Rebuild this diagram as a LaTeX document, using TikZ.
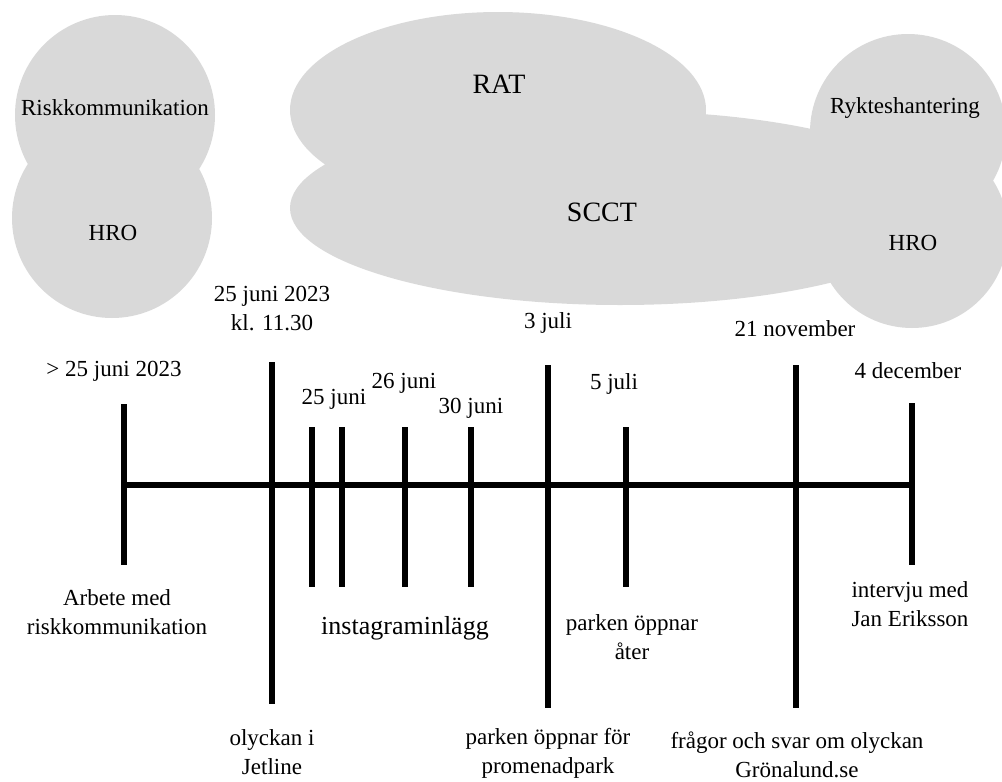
\documentclass[tikz,border=0pt]{standalone}
\usepackage{fontspec}
\setmainfont{Liberation Serif}
\definecolor{cloudgrey}{RGB}{217,217,217}
\tikzset{
  lbl/.style={align=center, inner sep=0pt, font=\fontsize{11.5}{14.5}\selectfont},
  biglbl/.style={align=center, inner sep=0pt, font=\fontsize{14}{16}\selectfont},
  tick/.style={line width=3pt},
}

\begin{document}
\begin{tikzpicture}[x=0.5pt,y=-0.5pt]
\useasboundingbox (0,0) rectangle (1002,782);
\clip (0,0) rectangle (1002,782);

% theory clouds
\fill[cloudgrey] (115,115) circle [radius=100] (112,218) circle [radius=100];
\fill[cloudgrey] (498,110) ellipse [x radius=208, y radius=98]
                 (620,208) ellipse [x radius=330, y radius=97];
\fill[cloudgrey] (908,132) circle [radius=98] (912,232) circle [radius=96];

\node[lbl] (risk) at (115,108) {Riskkommunikation};
\node[lbl] (hroleft) at (113,233) {HRO};
\node[biglbl] (rat) at (499,84) {RAT};
\node[biglbl] (scct) at (602,212) {SCCT};
\node[lbl] (rykte) at (905,108) {Rykteshantering};
\node[lbl] (hroright) at (913,243) {HRO};

% timeline
\draw[tick] (124,485) -- (912,485);
\foreach \x/\t/\b in {124/404/565, 272/362/704, 312/427/587, 342/427/587,
                      405/427/587, 471/427/587, 548/365/708, 626/427/587,
                      796/365/708, 912/403/565}
  \draw[tick] (\x,\t) -- (\x,\b);

% dates
\node[lbl] (before) at (114,371) {> 25 juni 2023};
\node[lbl] (crash) at (272,309) {25 juni 2023\\kl. 11.30};
\node[lbl] (juni25) at (334,399) {25 juni};
\node[lbl] (juni26) at (404,383) {26 juni};
\node[lbl] (juni30) at (471,408) {30 juni};
\node[lbl] (juli3) at (548,323) {3 juli};
\node[lbl] (juli5) at (614,384) {5 juli};
\node[lbl] (nov21) at (795,329) {21 november};
\node[lbl] (dec4) at (908,371) {4 december};

% events
\node[lbl] (arbete) at (117,612) {Arbete med\\riskkommunikation};
\node[biglbl, font=\fontsize{13}{15}\selectfont] (insta) at (405,628) {instagraminlägg};
\node[lbl] (olyckan) at (272,752) {olyckan i\\Jetline};
\node[lbl] (ater) at (632,637) {parken öppnar\\åter};
\node[lbl] (promenad) at (548,753) {parken öppnar för\\promenadpark};
\node[lbl] (fragor) at (797,755) {frågor och svar om olyckan\\Grönalund.se};
\node[lbl] (intervju) at (910,604) {intervju med\\Jan Eriksson};

\end{tikzpicture}
\end{document}
